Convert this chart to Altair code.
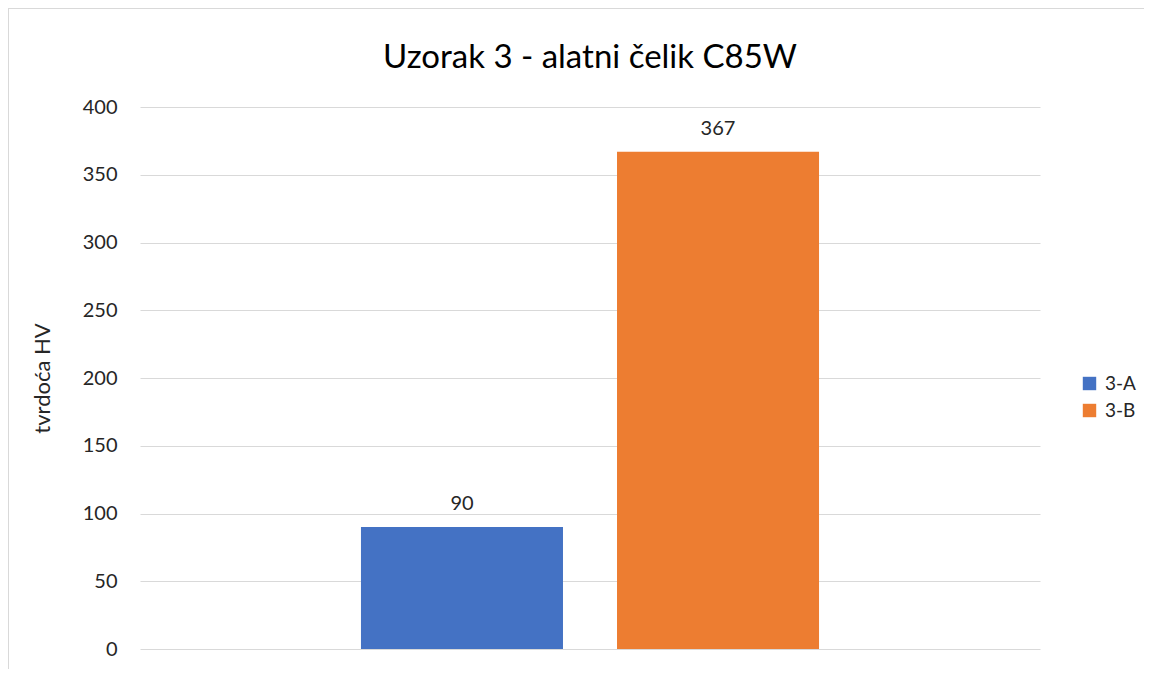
import altair as alt
import pandas as pd

series = ["3-A", "3-B"]
values = [90, 367]
colors = ["#4472C4", "#ED7D31"]
y_ticks = [0, 50, 100, 150, 200, 250, 300, 350, 400]

df = pd.DataFrame({"serija": series, "tvrdoca": values})

FONT = "Lato"
FS = 20

x = alt.X("serija:N", axis=None,
          scale=alt.Scale(domain=series, paddingInner=0.211, paddingOuter=0.863))
y = alt.Y("tvrdoca:Q", title="tvrdoća HV",
          scale=alt.Scale(domain=[0, 400], nice=False),
          axis=alt.Axis(values=y_ticks, grid=True, gridColor="#D9D9D9", gridWidth=1,
                        domain=False, ticks=False, labelPadding=23,
                        labelFont=FONT, labelFontSize=FS, labelColor="#262626",
                        titleFont=FONT, titleFontSize=22, titleFontWeight="normal",
                        titleColor="#262626", titlePadding=28))

bars = alt.Chart(df).mark_bar().encode(
    x=x, y=y,
    color=alt.Color("serija:N", scale=alt.Scale(domain=series, range=colors),
                    legend=alt.Legend(title=None, orient="none", legendX=940, legendY=267,
                                      symbolType="square", symbolSize=180,
                                      symbolStrokeWidth=0, labelFont=FONT,
                                      labelFontSize=19, labelColor="#262626",
                                      rowPadding=7, labelOffset=6)),
)

labels = alt.Chart(df).mark_text(font=FONT, fontSize=FS, color="#262626",
                                 baseline="alphabetic", dy=-17).encode(
    x=x, y=alt.Y("tvrdoca:Q"), text=alt.Text("tvrdoca:Q"))

frame_left = alt.Chart(df).mark_rule(color="#D9D9D9", strokeWidth=2, clip=False).encode(
    x=alt.value(-132), y=alt.value(-99), y2=alt.value(600))
frame_top = alt.Chart(df).mark_rule(color="#D9D9D9", strokeWidth=2, clip=False).encode(
    x=alt.value(-132), x2=alt.value(1100), y=alt.value(-99))

chart = alt.layer(frame_left, frame_top, bars, labels).properties(
    width=900, height=542,
    autosize=alt.AutoSizeParams(type="none"),
    padding={"left": 132, "top": 99, "right": 104, "bottom": 20},
    title=alt.TitleParams("Uzorak 3 - alatni čelik C85W", font=FONT, fontSize=33,
                          fontWeight="normal", color="#000000", offset=-68,
                          anchor="middle", frame="group"),
).configure_view(stroke=None)

chart.save("out.html", embed_options={"renderer": "svg", "actions": False})
